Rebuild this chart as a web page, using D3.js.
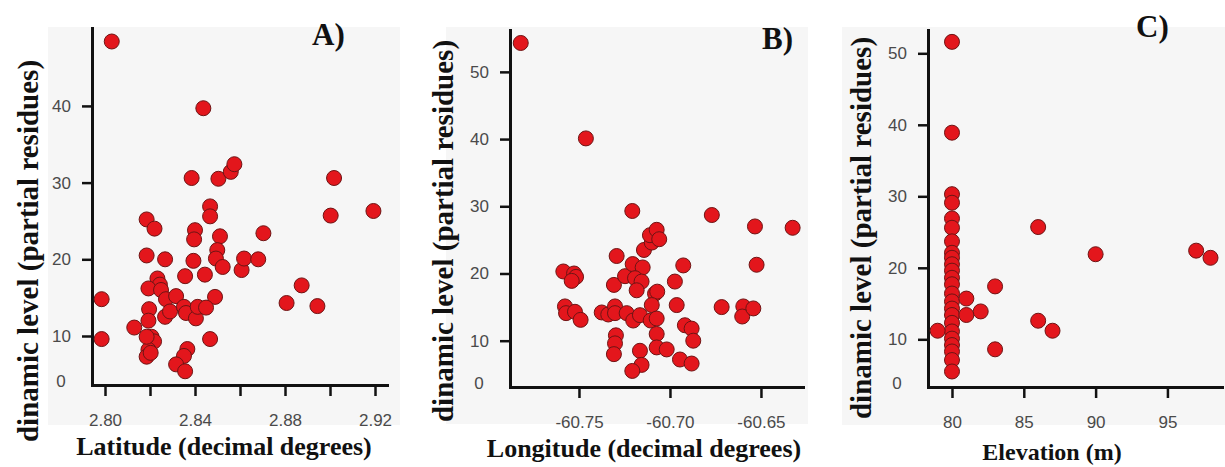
<!DOCTYPE html>
<html>
<head>
<meta charset="utf-8">
<script src="https://cdn.jsdelivr.net/npm/d3@7"></script>
<style>
  html, body { margin: 0; padding: 0; background: #ffffff; }
  svg { display: block; }
  .tick text { font-family: "Liberation Sans", Arial, sans-serif; font-size: 17px; fill: #4a4a4a; }
  .axis path, .axis line { stroke: #111; }
</style>
</head>
<body>
<svg id="chart" width="1225" height="467"></svg>
<script>
// ---- A) latitude vs partial residues ----
const latitude = [
  2.803, 2.8437, 2.8385, 2.8504, 2.8559, 2.8575, 2.9018,
  2.7985, 2.7985, 2.8185, 2.822, 2.8185, 2.8267, 2.8233, 2.8244, 2.8193,
  2.8249, 2.8271, 2.8316, 2.8356, 2.8393, 2.840, 2.8396, 2.8467, 2.8467,
  2.8511, 2.8499, 2.8493, 2.8523, 2.8444, 2.8489, 2.8607, 2.8618, 2.8681,
  2.8704, 2.8874, 2.8807, 2.8944, 2.9003, 2.9193, 2.8196, 2.8193, 2.813,
  2.8267, 2.8289, 2.8351, 2.836, 2.8404, 2.8412, 2.8449, 2.8467, 2.8207,
  2.8218, 2.8193, 2.8185, 2.8203, 2.8366, 2.8351, 2.8316, 2.8356, 2.8185
];
const latResidues = [
  48.4, 39.7, 30.6, 30.5, 31.4, 32.4, 30.6,
  14.8, 9.6, 25.2, 24.0, 20.5, 20.0, 17.5, 16.7, 16.2,
  16.0, 14.8, 15.2, 17.8, 19.8, 23.8, 22.6, 26.9, 25.6,
  23.0, 21.2, 20.1, 19.0, 18.0, 15.1, 18.6, 20.1, 20.0,
  23.4, 16.6, 14.3, 13.9, 25.7, 26.3, 13.5, 12.0, 11.1,
  12.5, 13.2, 13.8, 13.0, 12.3, 13.8, 13.7, 9.6, 9.9,
  9.3, 8.2, 7.3, 7.8, 8.3, 7.4, 6.3, 5.4, 9.9
];

// ---- B) longitude vs partial residues ----
const longitude = [
  -60.782, -60.7462, -60.7207, -60.677, -60.6533, -60.6326, -60.6524,
  -60.7586, -60.7527, -60.7516, -60.754, -60.7577, -60.7571, -60.7522, -60.7491,
  -60.7375, -60.7339, -60.7302, -60.7302, -60.7293, -60.7308, -60.7247, -60.7205,
  -60.715, -60.7192, -60.7156, -60.7183, -60.7238, -60.7202, -60.7165, -60.7297,
  -60.7302, -60.7308, -60.7165, -60.7156, -60.7207, -60.7143, -60.710, -60.711,
  -60.7073, -60.7059, -60.7082, -60.707, -60.710, -60.7106, -60.7073, -60.7073,
  -60.7073, -60.7018, -60.6973, -60.6927, -60.6963, -60.6918, -60.6881, -60.6872,
  -60.6945, -60.6881, -60.6716, -60.6597, -60.6603, -60.6542
];
const lonResidues = [
  54.3, 40.1, 29.3, 28.7, 27.0, 26.8, 21.3,
  20.3, 20.0, 19.5, 18.9, 15.1, 14.1, 14.3, 13.1,
  14.2, 13.9, 15.1, 14.1, 22.6, 18.3, 19.6, 21.4,
  20.9, 19.3, 18.8, 17.5, 14.1, 13.0, 13.8, 10.8,
  9.6, 8.0, 8.5, 6.4, 5.5, 23.5, 24.6, 25.7,
  26.5, 25.1, 17.0, 17.3, 15.3, 13.0, 13.3, 11.0,
  9.0, 8.7, 18.8, 21.2, 15.3, 12.3, 11.8, 10.0,
  7.2, 6.6, 15.0, 15.1, 13.6, 14.8
];

// ---- C) elevation vs partial residues ----
const elevation = [
  80, 80, 80, 80, 80, 80, 80, 80, 80, 80, 80, 80,
  80, 80, 80, 80, 80, 80, 80, 80, 80, 80, 80, 80,
  79, 81, 81, 82, 83, 83, 86, 86, 87, 90, 97, 98
];
const elevResidues = [
  51.6, 38.9, 30.3, 29.1, 26.9, 25.6, 23.7, 22.1, 21.4, 20.5, 19.6, 18.6,
  17.7, 16.4, 15.3, 14.3, 13.4, 12.3, 11.1, 10.1, 9.2, 8.3, 7.1, 5.5,
  11.2, 15.7, 13.4, 13.9, 17.4, 8.6, 25.7, 12.6, 11.2, 21.9, 22.4, 21.4
];

// ---- axis ticks and labels ----
const latTicks = [2.80, 2.82, 2.84, 2.86, 2.88, 2.90, 2.92];
const latTickLabels = ["2.80", "", "2.84", "", "2.88", "", "2.92"];
const lonTicks = [-60.75, -60.70, -60.65];
const lonTickLabels = ["-60.75", "-60.70", "-60.65"];
const elevTicks = [80, 85, 90, 95];
const elevTickLabels = ["80", "85", "90", "95"];
const yTicksA = [10, 20, 30, 40];
const yTicksBC = [10, 20, 30, 40, 50];
const yBottomLabel = "0";

const yTitle = "dinamic level (partial residues)";
const panelTitles = ["A)", "B)", "C)"];
const xTitles = ["Latitude (decimal degrees)", "Longitude (decimal degrees)", "Elevation (m)"];

// ---- panel layout ----
const panels = [
  {
    xs: latitude, ys: latResidues,
    xTicks: latTicks, xTickLabels: latTickLabels, yTicks: yTicksA,
    xDomain: [2.79422, 2.92533], xRange: [92, 387],
    yDomain: [3.61, 50.16], yRange: [385, 28],
    bg: [48, 27, 352, 398],
    yTitlePos: [28, 251], xTitlePos: [224, 455], xTitleSize: 26,
    tagPos: [312, 45]
  },
  {
    xs: longitude, ys: lonResidues,
    xTicks: lonTicks, xTickLabels: lonTickLabels, yTicks: yTicksBC,
    xDomain: [-60.7879, -60.6269], xRange: [510, 803],
    yDomain: [3.11, 56.23], yRange: [387, 30],
    bg: [446, 27, 362, 397],
    yTitlePos: [443, 231], xTitlePos: [644, 457], xTitleSize: 26,
    tagPos: [762, 49]
  },
  {
    xs: elevation, ys: elevResidues,
    xTicks: elevTicks, xTickLabels: elevTickLabels, yTicks: yTicksBC,
    xDomain: [78.33, 98.8], xRange: [928, 1222],
    yDomain: [3.33, 53.26], yRange: [387, 30],
    bg: [842, 27, 383, 398],
    yTitlePos: [861, 228], xTitlePos: [1052, 460], xTitleSize: 24,
    tagPos: [1136, 37]
  }
];

const svg = d3.select("#chart");
const serif = "'Liberation Serif', 'Times New Roman', serif";

panels.forEach((p, i) => {
  const g = svg.append("g");

  // light plot backdrop
  g.append("rect")
    .attr("x", p.bg[0]).attr("y", p.bg[1])
    .attr("width", p.bg[2]).attr("height", p.bg[3])
    .attr("fill", "#f6f6f6");

  const x = d3.scaleLinear().domain(p.xDomain).range(p.xRange);
  const y = d3.scaleLinear().domain(p.yDomain).range(p.yRange);

  // x axis
  const xAxis = d3.axisBottom(x)
    .tickValues(p.xTicks)
    .tickFormat((d, k) => p.xTickLabels[k])
    .tickSize(11).tickSizeOuter(0).tickPadding(18);
  const gx = g.append("g").attr("class", "axis")
    .attr("transform", `translate(0,${p.yRange[0]})`)
    .call(xAxis);

  // y axis
  const yAxis = d3.axisLeft(y)
    .tickValues(p.yTicks)
    .tickFormat(d3.format("d"))
    .tickSize(10).tickSizeOuter(0).tickPadding(11);
  const gy = g.append("g").attr("class", "axis")
    .attr("transform", `translate(${p.xRange[0]},0)`)
    .call(yAxis);

  [gx, gy].forEach(a => {
    a.select(".domain").attr("stroke-width", 3).attr("stroke-linecap", "square");
    a.selectAll(".tick line").attr("stroke-width", 2.5);
  });

  // bottom "0" label beneath the lowest tick
  g.append("text")
    .attr("x", p.xRange[0] - 31)
    .attr("y", p.yRange[0] - 4)
    .attr("text-anchor", "middle")
    .attr("dominant-baseline", "central")
    .attr("font-family", "'Liberation Sans', Arial, sans-serif")
    .attr("font-size", 17)
    .attr("fill", "#4a4a4a")
    .text(yBottomLabel);

  // points
  const pts = p.xs.map((v, k) => [v, p.ys[k]]);
  g.append("g").selectAll("circle")
    .data(pts)
    .join("circle")
    .attr("cx", d => x(d[0]))
    .attr("cy", d => y(d[1]))
    .attr("r", 7.5)
    .attr("fill", "#e3161c")
    .attr("stroke", "#6e1414")
    .attr("stroke-width", 1);

  // axis titles
  g.append("text")
    .attr("transform", `translate(${p.yTitlePos[0]},${p.yTitlePos[1]}) rotate(-90)`)
    .attr("text-anchor", "middle")
    .attr("dominant-baseline", "central")
    .attr("font-family", serif)
    .attr("font-weight", "bold")
    .attr("font-size", 29)
    .attr("fill", "#111")
    .text(yTitle);

  g.append("text")
    .attr("x", p.xTitlePos[0]).attr("y", p.xTitlePos[1])
    .attr("text-anchor", "middle")
    .attr("font-family", serif)
    .attr("font-weight", "bold")
    .attr("font-size", p.xTitleSize)
    .attr("fill", "#111")
    .text(xTitles[i]);

  // panel tag
  g.append("text")
    .attr("x", p.tagPos[0]).attr("y", p.tagPos[1])
    .attr("font-family", serif)
    .attr("font-weight", "bold")
    .attr("font-size", 31)
    .attr("fill", "#111")
    .text(panelTitles[i]);
});
</script>
</body>
</html>
